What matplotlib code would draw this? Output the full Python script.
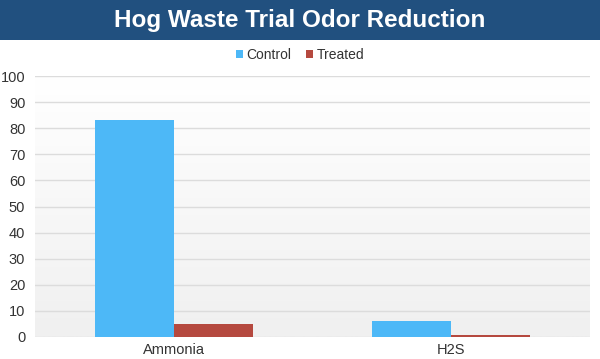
import matplotlib
matplotlib.use("Agg")
import matplotlib.pyplot as plt
import numpy as np
from matplotlib.patches import Rectangle
from matplotlib.colors import LinearSegmentedColormap

categories = ["Ammonia", "H2S"]
control = [83, 6]
treated = [5, 0.8]
yticks = [0, 10, 20, 30, 40, 50, 60, 70, 80, 90, 100]

plt.rcParams['font.family'] = ['Liberation Sans', 'DejaVu Sans']

fig = plt.figure(figsize=(6, 3.59), dpi=100)
fig.patch.set_facecolor('white')

# title band
fig.patches.append(Rectangle((0, 1 - 40/359), 1, 40/359, transform=fig.transFigure,
                             facecolor='#21507f', edgecolor='none', zorder=0))
fig.text(0.5, 1 - 20/359, "Hog Waste Trial Odor Reduction", color='white',
         fontsize=17.5, fontweight='bold', ha='center', va='center')

ax = fig.add_axes([35/600, 1 - 337/359, 555/600, (337 - 76)/359])
grad = np.linspace(1, 0, 100).reshape(-1, 1)
ax.imshow(grad, extent=[-0.5, 1.5, 0, 100], aspect='auto',
          cmap=LinearSegmentedColormap.from_list('g', ['#f0f0f0', '#ffffff']),
          zorder=0, origin='upper')

x = np.arange(len(categories))
w = 0.285
ax.bar(x - w/2, control, w, color='#4db8f7', label='Control', zorder=3)
ax.bar(x + w/2, treated, w, color='#b5493f', label='Treated', zorder=3)

ax.set_xlim(-0.5, 1.5)
ax.set_ylim(0, 100)
ax.set_yticks(yticks)
ax.yaxis.grid(True, color='#dcdcdc', linewidth=1, zorder=1)
ax.set_axisbelow(True)
for s in ax.spines.values():
    s.set_visible(False)
ax.tick_params(axis='both', length=0, labelsize=10.5, colors='#333333')
ax.tick_params(axis='y', pad=7)
ax.set_xticks(x)
ax.set_xticklabels(categories)
ax.tick_params(axis='x', pad=4)

leg = fig.legend(loc='center', bbox_to_anchor=(0.5, 1 - 55/359), ncol=2, frameon=False,
                 fontsize=10, handlelength=0.5, handleheight=0.5, handletextpad=0.3,
                 columnspacing=1.0)
for t in leg.get_texts():
    t.set_color('#333333')

fig.savefig("out.png", dpi=100)
